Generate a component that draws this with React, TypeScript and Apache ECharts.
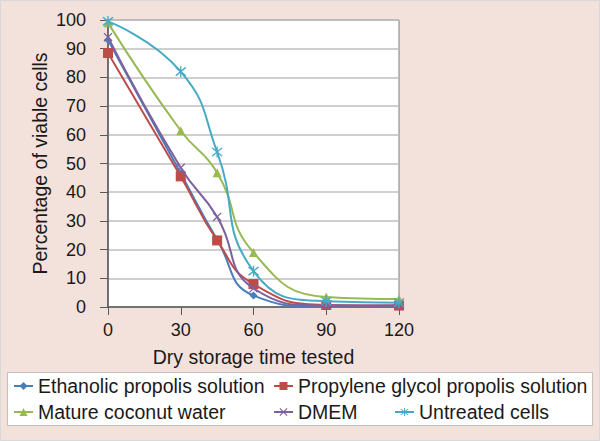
import React, { useEffect, useRef } from "react";
import * as echarts from "echarts";

const times = [0, 30, 45, 60, 90, 120];
const xTicks = [0, 30, 60, 90, 120];
const seriesNames = [
  "Ethanolic propolis solution",
  "Propylene glycol propolis solution",
  "Mature coconut water",
  "DMEM",
  "Untreated cells",
];
const ethanolic = [93, 46.5, 23.5, 4, 0, 0.5];
const propylene = [88.5, 45.5, 23.2, 8, 0.7, 0.5];
const coconut = [99, 61.4, 46.8, 19, 3.5, 2.8];
const dmem = [94, 48.5, 31.4, 6.5, 0.5, 0.5];
const untreated = [99.5, 82, 54, 12.5, 2, 1.5];

const colors = ["#4A7EBB", "#BE4B48", "#98B954", "#7D60A0", "#46AAC5"];
const X_PATH = "path://M0,1L1,0L10,9L9,10Z M9,0L10,1L1,10L0,9Z";
const STAR_PATH = "path://M0,1L1,0L10,9L9,10Z M9,0L10,1L1,10L0,9Z M4.4,-1L5.6,-1L5.6,11L4.4,11Z";
const symbols = ["diamond", "rect", "triangle", X_PATH, STAR_PATH];
const symbolSizes = [8, 10, 9, 9, 11];

export default function App() {
  const ref = useRef<HTMLDivElement>(null);
  useEffect(() => {
    document.body.style.margin = "0";
    const chart = echarts.init(ref.current!, null, { renderer: "svg" });
    const allData = [ethanolic, propylene, coconut, dmem, untreated];
    const font = "Liberation Sans, Arial, sans-serif";
    const legendPos = [
      { left: 13, top: 376 },
      { left: 273, top: 376 },
      { left: 13, top: 402 },
      { left: 273, top: 402 },
      { left: 394, top: 402 },
    ];
    chart.setOption({
      animation: false,
      backgroundColor: "#F3E1DB",
      textStyle: { fontFamily: font },
      graphic: [
        {
          type: "rect",
          shape: { x: 7.5, y: 372.5, width: 585, height: 53 },
          style: { fill: "#ffffff", stroke: "#BFBFBF", lineWidth: 1 },
          z: -1,
        },
        {
          type: "rect",
          shape: { x: 0.5, y: 0.5, width: 599, height: 440 },
          style: { fill: "none", stroke: "#D9D9D9", lineWidth: 1 },
          z: -1,
        },
      ],
      grid: {
        left: 108,
        right: 201,
        top: 20,
        bottom: 134,
        show: true,
        backgroundColor: "#ffffff",
        borderColor: "#7F7F7F",
        borderWidth: 1,
      },
      legend: seriesNames.map((n, i) => ({
        data: [n],
        left: legendPos[i].left,
        top: legendPos[i].top,
        itemWidth: 19,
        itemHeight: 10,
        itemGap: 0,
        padding: 0,
        textStyle: { fontSize: 19.5, color: "#1a1a1a", fontFamily: font },
        selectedMode: false,
      })),
      xAxis: {
        type: "value",
        min: 0,
        max: 120,
        interval: 30,
        name: "Dry storage time tested",
        nameLocation: "middle",
        nameGap: 40,
        nameTextStyle: { fontSize: 19.5, color: "#1a1a1a" },
        axisLine: { show: true, lineStyle: { color: "#595959", width: 1.5 } },
        axisTick: { show: true, length: 8, lineStyle: { color: "#595959" } },
        axisLabel: {
          fontSize: 18,
          color: "#1a1a1a",
          margin: 14,
          customValues: xTicks,
        },
        splitLine: { show: false },
      },
      yAxis: {
        type: "value",
        min: 0,
        max: 100,
        interval: 10,
        name: "Percentage of viable cells",
        nameLocation: "middle",
        nameRotate: 90,
        nameGap: 58,
        nameTextStyle: { fontSize: 19.5, color: "#1a1a1a" },
        axisLine: { show: true, lineStyle: { color: "#595959", width: 1.5 } },
        axisTick: { show: true, length: 8, lineStyle: { color: "#595959" } },
        axisLabel: { fontSize: 18, color: "#1a1a1a", margin: 22 },
        splitLine: { show: true, lineStyle: { color: "#BFBFBF", width: 1.5 } },
      },
      series: seriesNames.map((n, i) => ({
        name: n,
        type: "line",
        smooth: true,
        data: times.map((t, j) => [t, allData[i][j]]),
        symbol: symbols[i],
        symbolSize: symbolSizes[i],
        showSymbol: true,
        lineStyle: { color: colors[i], width: 2 },
        itemStyle: { color: colors[i], borderColor: colors[i], borderWidth: 0 },
        z: 2 + i,
      })),
    });
    return () => chart.dispose();
  }, []);
  return <div ref={ref} style={{ width: 600, height: 441 }} />;
}
